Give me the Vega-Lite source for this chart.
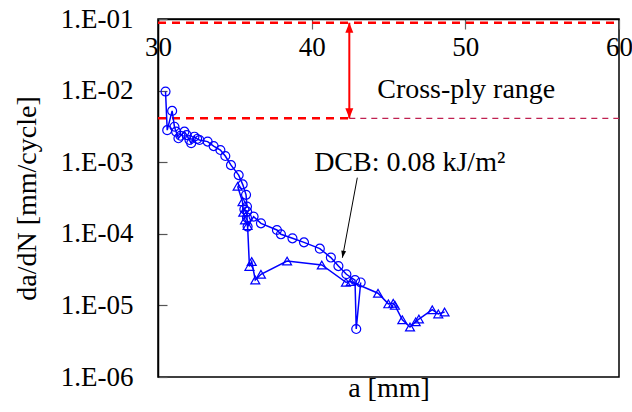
{
  "$schema": "https://vega.github.io/schema/vega-lite/v6.json",
  "width": 461,
  "height": 358,
  "autosize": "none",
  "padding": {"left": 158, "top": 19, "right": 13, "bottom": 35},
  "background": "white",
  "config": {
    "font": "Liberation Serif",
    "view": {"stroke": "black", "strokeWidth": 1.5}
  },
  "datasets": {
    "pts": [
      {"s": "c", "i": 1, "a": 30.49, "v": 0.0097},
      {"s": "c", "i": 2, "a": 30.6, "v": 0.0028},
      {"s": "c", "i": 3, "a": 30.92, "v": 0.0052},
      {"s": "c", "i": 4, "a": 31.07, "v": 0.00313},
      {"s": "c", "i": 5, "a": 31.18, "v": 0.00267},
      {"s": "c", "i": 6, "a": 31.33, "v": 0.00216},
      {"s": "c", "i": 7, "a": 31.46, "v": 0.00234},
      {"s": "c", "i": 8, "a": 31.72, "v": 0.00267},
      {"s": "c", "i": 9, "a": 31.87, "v": 0.00239},
      {"s": "c", "i": 10, "a": 32.05, "v": 0.00204},
      {"s": "c", "i": 11, "a": 32.16, "v": 0.00184},
      {"s": "c", "i": 12, "a": 32.37, "v": 0.00227},
      {"s": "c", "i": 13, "a": 32.55, "v": 0.00211},
      {"s": "c", "i": 14, "a": 32.7, "v": 0.00204},
      {"s": "c", "i": 15, "a": 33.23, "v": 0.00194},
      {"s": "c", "i": 16, "a": 33.62, "v": 0.00168},
      {"s": "c", "i": 17, "a": 34.06, "v": 0.00148},
      {"s": "c", "i": 18, "a": 34.38, "v": 0.00122},
      {"s": "c", "i": 19, "a": 34.75, "v": 0.00091},
      {"s": "c", "i": 20, "a": 35.25, "v": 0.00066},
      {"s": "c", "i": 21, "a": 35.51, "v": 0.00049},
      {"s": "c", "i": 22, "a": 35.73, "v": 0.00035},
      {"s": "c", "i": 23, "a": 35.79, "v": 0.00024},
      {"s": "c", "i": 24, "a": 35.62, "v": 0.00022},
      {"s": "c", "i": 25, "a": 35.8, "v": 0.000204},
      {"s": "c", "i": 26, "a": 35.79, "v": 0.000168},
      {"s": "c", "i": 27, "a": 35.83, "v": 0.000126},
      {"s": "c", "i": 28, "a": 36.22, "v": 0.000174},
      {"s": "c", "i": 29, "a": 36.7, "v": 0.00014},
      {"s": "c", "i": 30, "a": 37.74, "v": 0.000113},
      {"s": "c", "i": 31, "a": 38.0, "v": 0.0000984},
      {"s": "c", "i": 32, "a": 38.75, "v": 0.0000865},
      {"s": "c", "i": 33, "a": 39.5, "v": 0.0000759},
      {"s": "c", "i": 34, "a": 40.53, "v": 0.000062},
      {"s": "c", "i": 35, "a": 41.25, "v": 0.0000466},
      {"s": "c", "i": 36, "a": 41.74, "v": 0.0000354},
      {"s": "c", "i": 37, "a": 42.26, "v": 0.0000272},
      {"s": "c", "i": 38, "a": 42.82, "v": 0.0000226},
      {"s": "c", "i": 39, "a": 42.9, "v": 0.00000468},
      {"s": "c", "i": 40, "a": 43.19, "v": 0.0000209},
      {"s": "t", "i": 1, "a": 35.18, "v": 0.00046},
      {"s": "t", "i": 2, "a": 35.5, "v": 0.00028},
      {"s": "t", "i": 3, "a": 35.55, "v": 0.0002},
      {"s": "t", "i": 4, "a": 35.66, "v": 0.000156},
      {"s": "t", "i": 5, "a": 35.83, "v": 0.00013},
      {"s": "t", "i": 6, "a": 35.95, "v": 0.000035},
      {"s": "t", "i": 7, "a": 36.1, "v": 0.000041},
      {"s": "t", "i": 8, "a": 36.33, "v": 0.0000226},
      {"s": "t", "i": 9, "a": 36.7, "v": 0.0000272},
      {"s": "t", "i": 10, "a": 38.4, "v": 0.0000416},
      {"s": "t", "i": 11, "a": 40.66, "v": 0.0000367},
      {"s": "t", "i": 12, "a": 42.23, "v": 0.000021},
      {"s": "t", "i": 13, "a": 42.55, "v": 0.0000215},
      {"s": "t", "i": 14, "a": 44.32, "v": 0.0000148},
      {"s": "t", "i": 15, "a": 44.99, "v": 0.0000105},
      {"s": "t", "i": 16, "a": 45.31, "v": 0.0000107},
      {"s": "t", "i": 17, "a": 45.42, "v": 0.00001},
      {"s": "t", "i": 18, "a": 45.9, "v": 0.0000063},
      {"s": "t", "i": 19, "a": 46.4, "v": 0.000005},
      {"s": "t", "i": 20, "a": 46.77, "v": 0.0000059},
      {"s": "t", "i": 21, "a": 46.98, "v": 0.00000645},
      {"s": "t", "i": 22, "a": 47.85, "v": 0.0000087},
      {"s": "t", "i": 23, "a": 48.24, "v": 0.0000076},
      {"s": "t", "i": 24, "a": 48.65, "v": 0.0000081}
    ]
  },
  "layer": [
    {
      "data": {"values": [{"a": 30, "a2": 60, "v": 0.0887}]},
      "mark": {"type": "rule", "color": "#ff0000", "strokeWidth": 2.5, "strokeDash": [8, 6]},
      "encoding": {
        "x": {"field": "a", "type": "quantitative", "scale": {"domain": [30, 60], "nice": false},
          "axis": {"orient": "bottom", "offset": -358, "values": [30, 40, 50, 60], "grid": false,
            "domainColor": "black", "domainWidth": 1.5, "tickColor": "#666666", "tickSize": 10, "tickWidth": 1.2,
            "labelFontSize": 27, "labelColor": "black", "labelPadding": 5, "labelFont": "Liberation Serif",
            "title": "a [mm]", "titleFontSize": 28, "titleFontWeight": "normal", "titleColor": "black", "titleFont": "Liberation Serif",
            "titleY": 377, "titleBaseline": "alphabetic", "labelFlush": false}},
        "x2": {"field": "a2"},
        "y": {"field": "v", "type": "quantitative", "scale": {"type": "log", "domain": [0.000001, 0.1], "nice": false},
          "axis": {"values": [0.000001, 0.00001, 0.0001, 0.001, 0.01, 0.1], "grid": false,
            "labelExpr": "'1.E-0' + format(-log(datum.value)/LN10, '.0f')",
            "domainColor": "black", "domainWidth": 1.5, "tickColor": "#555555", "tickSize": -9, "tickWidth": 1.2,
            "labelFontSize": 27, "labelColor": "black", "labelPadding": 34, "labelFont": "Liberation Serif",
            "title": "da/dN [mm/cycle]", "titleFontSize": 28, "titleFontWeight": "normal", "titleColor": "black", "titleFont": "Liberation Serif",
            "titleX": -131, "titleY": 179, "titleBaseline": "middle", "titleAlign": "center", "labelFlush": false}}
      }
    },
    {
      "data": {"values": [{"a": 30, "a2": 42.45, "v": 0.0041}]},
      "mark": {"type": "rule", "color": "#ff0000", "strokeWidth": 2.5, "strokeDash": [8, 6]},
      "encoding": {"x": {"field": "a", "type": "quantitative"}, "x2": {"field": "a2"}, "y": {"field": "v", "type": "quantitative"}}
    },
    {
      "data": {"values": [{"a": 42.45, "a2": 60, "v": 0.0041}]},
      "mark": {"type": "rule", "color": "#c02050", "strokeWidth": 1.3, "strokeDash": [6, 5]},
      "encoding": {"x": {"field": "a", "type": "quantitative"}, "x2": {"field": "a2"}, "y": {"field": "v", "type": "quantitative"}}
    },
    {
      "data": {"values": [{"a": 42.45, "v": 0.0887, "v2": 0.0041}]},
      "mark": {"type": "rule", "color": "#ff0000", "strokeWidth": 2},
      "encoding": {"x": {"field": "a", "type": "quantitative"}, "y": {"field": "v", "type": "quantitative"}, "y2": {"field": "v2"}}
    },
    {
      "data": {"values": [{"a": 42.45, "v": 0.0887}]},
      "mark": {"type": "point", "shape": "M0,0L-0.4,1L0.4,1Z", "size": 400, "filled": true, "color": "#ff0000", "opacity": 1},
      "encoding": {"x": {"field": "a", "type": "quantitative"}, "y": {"field": "v", "type": "quantitative"}}
    },
    {
      "data": {"values": [{"a": 42.45, "v": 0.0041}]},
      "mark": {"type": "point", "shape": "M0,0L-0.4,-1L0.4,-1Z", "size": 400, "filled": true, "color": "#ff0000", "opacity": 1},
      "encoding": {"x": {"field": "a", "type": "quantitative"}, "y": {"field": "v", "type": "quantitative"}}
    },
    {
      "data": {"values": [{"a": 42.97, "v": 0.000608, "a2": 42.0, "v2": 0.0000463}]},
      "mark": {"type": "rule", "color": "black", "strokeWidth": 1},
      "encoding": {"x": {"field": "a", "type": "quantitative"}, "y": {"field": "v", "type": "quantitative"}, "x2": {"field": "a2"}, "y2": {"field": "v2"}}
    },
    {
      "data": {"values": [{"a": 42.0, "v": 0.0000463}]},
      "mark": {"type": "point", "shape": "M0,0L-0.35,-1L0.35,-1Z", "size": 196, "angle": 10.7, "filled": true, "color": "black", "opacity": 1},
      "encoding": {"x": {"field": "a", "type": "quantitative"}, "y": {"field": "v", "type": "quantitative"}}
    },
    {
      "data": {"name": "pts"},
      "mark": {"type": "line", "color": "#0000ff", "strokeWidth": 1.5},
      "encoding": {
        "x": {"field": "a", "type": "quantitative"},
        "y": {"field": "v", "type": "quantitative"},
        "detail": {"field": "s"},
        "order": {"field": "i"}
      }
    },
    {
      "data": {"name": "pts"},
      "mark": {"type": "point", "filled": false, "color": "#0000ff", "strokeWidth": 1.2, "size": 80, "opacity": 1},
      "encoding": {
        "x": {"field": "a", "type": "quantitative"},
        "y": {"field": "v", "type": "quantitative"},
        "shape": {"field": "s", "type": "nominal", "scale": {"domain": ["c", "t"], "range": ["circle", "triangle-up"]}, "legend": null}
      }
    },
    {
      "data": {"values": [{"a": 50.06, "v": 0.00789, "t": "Cross-ply range"}]},
      "mark": {"type": "text", "fontSize": 28, "align": "center", "baseline": "alphabetic", "color": "black", "font": "Liberation Serif"},
      "encoding": {"x": {"field": "a", "type": "quantitative"}, "y": {"field": "v", "type": "quantitative"}, "text": {"field": "t"}}
    },
    {
      "data": {"values": [{"a": 40.16, "v": 0.000753, "t": "DCB: 0.08 kJ/m²"}]},
      "mark": {"type": "text", "fontSize": 28, "align": "left", "baseline": "alphabetic", "color": "black", "font": "Liberation Serif"},
      "encoding": {"x": {"field": "a", "type": "quantitative"}, "y": {"field": "v", "type": "quantitative"}, "text": {"field": "t"}}
    }
  ]
}
